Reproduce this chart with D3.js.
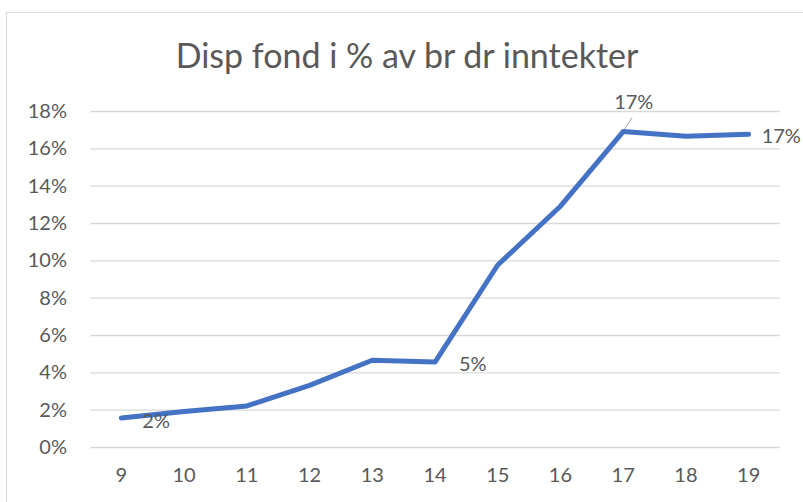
<!DOCTYPE html>
<html><head><meta charset="utf-8">
<script src="https://cdn.jsdelivr.net/npm/d3@7"></script>
<style>body{margin:0;background:#fff}svg{display:block}text{font-family:Lato,"Open Sans",sans-serif;fill:#595959}</style>
</head><body><svg id="c" width="803" height="502"></svg>
<script>
const categories = ["9","10","11","12","13","14","15","16","17","18","19"];
const values = [0.0155,0.019,0.022,0.033,0.0465,0.0455,0.0975,0.129,0.169,0.1665,0.1675];
const yTicks = [0,0.02,0.04,0.06,0.08,0.10,0.12,0.14,0.16,0.18];
const labelIdx = [0,5,8,10];
const title = "Disp fond i % av br dr inntekter";

const svg = d3.select("#c");
svg.append("rect").attr("x",6.5).attr("y",12.5).attr("width",810).attr("height",500).attr("fill","#fff").attr("stroke","#d9d9d9");
const m = {l:90,r:780,t:111,b:447};
const x = d3.scaleBand().domain(categories).range([m.l,m.r]);
const y = d3.scaleLinear().domain([0,0.18]).range([m.b,m.t]);
const fmt = d3.format(".0%");
const fs = "20px";

const ya = svg.append("g").attr("transform",`translate(${m.l},0)`)
  .call(d3.axisLeft(y).tickValues(yTicks).tickSize(-(m.r-m.l)).tickFormat(fmt).tickPadding(23));
ya.select(".domain").remove();
ya.selectAll("line").attr("stroke","#d9d9d9").attr("stroke-width",1.3);
ya.selectAll("text").style("font-size",fs).attr("fill","#595959");

const xa = svg.append("g").attr("transform",`translate(0,${m.b})`)
  .call(d3.axisBottom(x).tickSize(0).tickPadding(21));
xa.select(".domain").remove();
xa.selectAll("text").style("font-size",fs).attr("fill","#595959");

svg.append("text").attr("x",407).attr("y",68).attr("text-anchor","middle").style("font-size","34px").text(title);

const cx = d => x(d)+x.bandwidth()/2;
const line = d3.line().x((d,i)=>cx(categories[i])).y(d=>y(d));
svg.append("path").datum(values).attr("d",line).attr("fill","none").attr("stroke","#4472C4").attr("stroke-width",5).attr("stroke-linejoin","round").attr("stroke-linecap","round");

// leader line for 17 label
const i17 = 8;
svg.append("line").attr("x1",cx(categories[i17])+1).attr("y1",y(values[i17])-2).attr("x2",cx(categories[i17])+9).attr("y2",y(values[i17])-14).attr("stroke","#a6a6a6").attr("stroke-width",1);

const offs = {0:[21,10],5:[24,9],8:[-9,-23],10:[13,9]};
labelIdx.forEach(i=>{
  const o = offs[i];
  svg.append("text").attr("x",cx(categories[i])+o[0]).attr("y",y(values[i])+o[1])
    .attr("text-anchor","start").style("font-size",fs).text(fmt(values[i]));
});
</script></body></html>
